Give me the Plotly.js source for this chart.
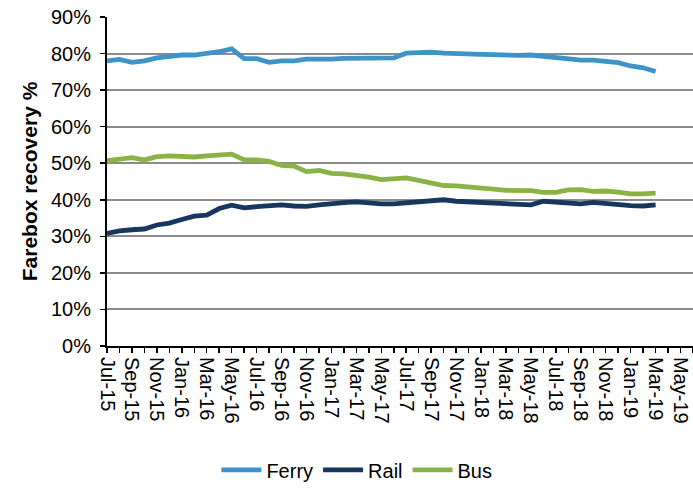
<!DOCTYPE html>
<html>
<head>
<meta charset="utf-8">
<script src="https://cdn.plot.ly/plotly-3.0.1.min.js"></script>
<style>
  html, body { margin: 0; padding: 0; background: #ffffff; }
  #chart { width: 693px; height: 491px; }
</style>
</head>
<body>
<div id="chart"></div>
<script>
// Month categories on the axis (Jul-15 .. Jun-19)
const categories = [
  "Jul-15","Aug-15","Sep-15","Oct-15","Nov-15","Dec-15",
  "Jan-16","Feb-16","Mar-16","Apr-16","May-16","Jun-16",
  "Jul-16","Aug-16","Sep-16","Oct-16","Nov-16","Dec-16",
  "Jan-17","Feb-17","Mar-17","Apr-17","May-17","Jun-17",
  "Jul-17","Aug-17","Sep-17","Oct-17","Nov-17","Dec-17",
  "Jan-18","Feb-18","Mar-18","Apr-18","May-18","Jun-18",
  "Jul-18","Aug-18","Sep-18","Oct-18","Nov-18","Dec-18",
  "Jan-19","Feb-19","Mar-19","Apr-19","May-19","Jun-19"
];

// Months with data (Jul-15 .. Mar-19)
const dataMonths = categories.slice(0, 45);

// Farebox recovery, percent
const ferry = [
  78.0, 78.4, 77.6, 78.0, 78.8, 79.3, 79.6, 79.6, 80.0, 80.5, 81.3, 78.6,
  78.6, 77.6, 78.0, 78.0, 78.5, 78.4, 78.5, 78.7, 78.7, 78.7, 78.7, 78.8,
  80.1, 80.2, 80.4, 80.1, 79.9, 80.0, 79.8, 79.7, 79.5, 79.5, 79.6, 79.2,
  78.8, 78.4, 78.2, 78.2, 78.0, 77.5, 76.6, 76.1, 75.1
];
const rail = [
  30.8, 31.5, 31.8, 32.0, 33.1, 33.6, 34.6, 35.5, 35.8, 37.6, 38.5, 37.8,
  38.1, 38.4, 38.6, 38.3, 38.2, 38.6, 39.0, 39.2, 39.4, 39.0, 38.9, 38.9,
  39.1, 39.4, 39.6, 40.0, 39.6, 39.4, 39.3, 39.2, 39.0, 38.7, 38.6, 39.6,
  39.4, 39.1, 38.9, 39.3, 38.9, 38.7, 38.4, 38.3, 38.6
];
const bus = [
  50.7, 51.2, 51.5, 50.9, 51.8, 52.0, 51.8, 51.7, 52.0, 52.1, 52.5, 50.9,
  50.9, 50.5, 49.4, 49.2, 47.7, 48.0, 47.2, 47.1, 46.8, 46.2, 45.5, 45.8,
  46.0, 45.3, 44.6, 43.9, 43.8, 43.6, 43.4, 42.9, 42.6, 42.5, 42.5, 42.0,
  42.0, 42.7, 42.8, 42.3, 42.4, 42.1, 41.6, 41.6, 41.8
];

// Tick labels: every second month
const tickLabels = categories.map((c, i) => (i % 2 === 0 ? c : ""));
const yTicks = [0, 10, 20, 30, 40, 50, 60, 70, 80, 90];

const seriesNames = ["Ferry", "Rail", "Bus"];
const seriesColors = ["#3f94c7", "#17375e", "#8bb244"];
const seriesValues = [ferry, rail, bus];

const font = "Liberation Sans, Arial, sans-serif";

const traces = seriesValues.map((vals, k) => ({
  type: "scatter",
  mode: "lines",
  name: seriesNames[k],
  x: dataMonths,
  y: vals,
  line: { color: seriesColors[k], width: 4.8, shape: "linear" },
  hoverinfo: "x+y+name"
}));

const layout = {
  width: 693,
  height: 491,
  margin: { l: 107, r: 0, t: 17, b: 145 },
  paper_bgcolor: "#ffffff",
  plot_bgcolor: "#ffffff",
  font: { family: font, size: 20, color: "#000000" },
  showlegend: true,
  legend: {
    orientation: "h",
    xref: "container",
    yref: "container",
    x: 0.515,
    xanchor: "center",
    y: 0.043,
    yanchor: "middle",
    font: { family: font, size: 20, color: "#000000" },
    itemwidth: 40,
    tracegroupgap: 0
  },
  xaxis: {
    type: "category",
    categoryorder: "array",
    categoryarray: categories,
    range: [0, categories.length - 1],
    tickmode: "array",
    tickvals: categories,
    ticktext: tickLabels,
    tickangle: 90,
    ticks: "outside",
    ticklen: 5,
    tickwidth: 1.5,
    tickcolor: "#000000",
    showline: true,
    linecolor: "#000000",
    linewidth: 2,
    showgrid: false,
    zeroline: false,
    tickfont: { family: font, size: 20, color: "#000000" },
    fixedrange: true
  },
  yaxis: {
    range: [0, 90],
    tickmode: "array",
    tickvals: yTicks,
    ticktext: yTicks.map(v => v + "%"),
    ticks: "outside",
    ticklen: 5,
    tickwidth: 1.5,
    tickcolor: "#000000",
    ticklabelstandoff: 5,
    showline: true,
    linecolor: "#000000",
    linewidth: 2,
    showgrid: true,
    gridcolor: "#8c8c8c",
    gridwidth: 2,
    zeroline: false,
    tickfont: { family: font, size: 20, color: "#000000" },
    title: {
      text: "Farebox recovery %",
      font: { family: font, size: 21, color: "#000000", weight: "bold" },
      standoff: 8
    },
    fixedrange: true
  }
};

Plotly.newPlot("chart", traces, layout, { displayModeBar: false, staticPlot: true });
</script>
</body>
</html>
